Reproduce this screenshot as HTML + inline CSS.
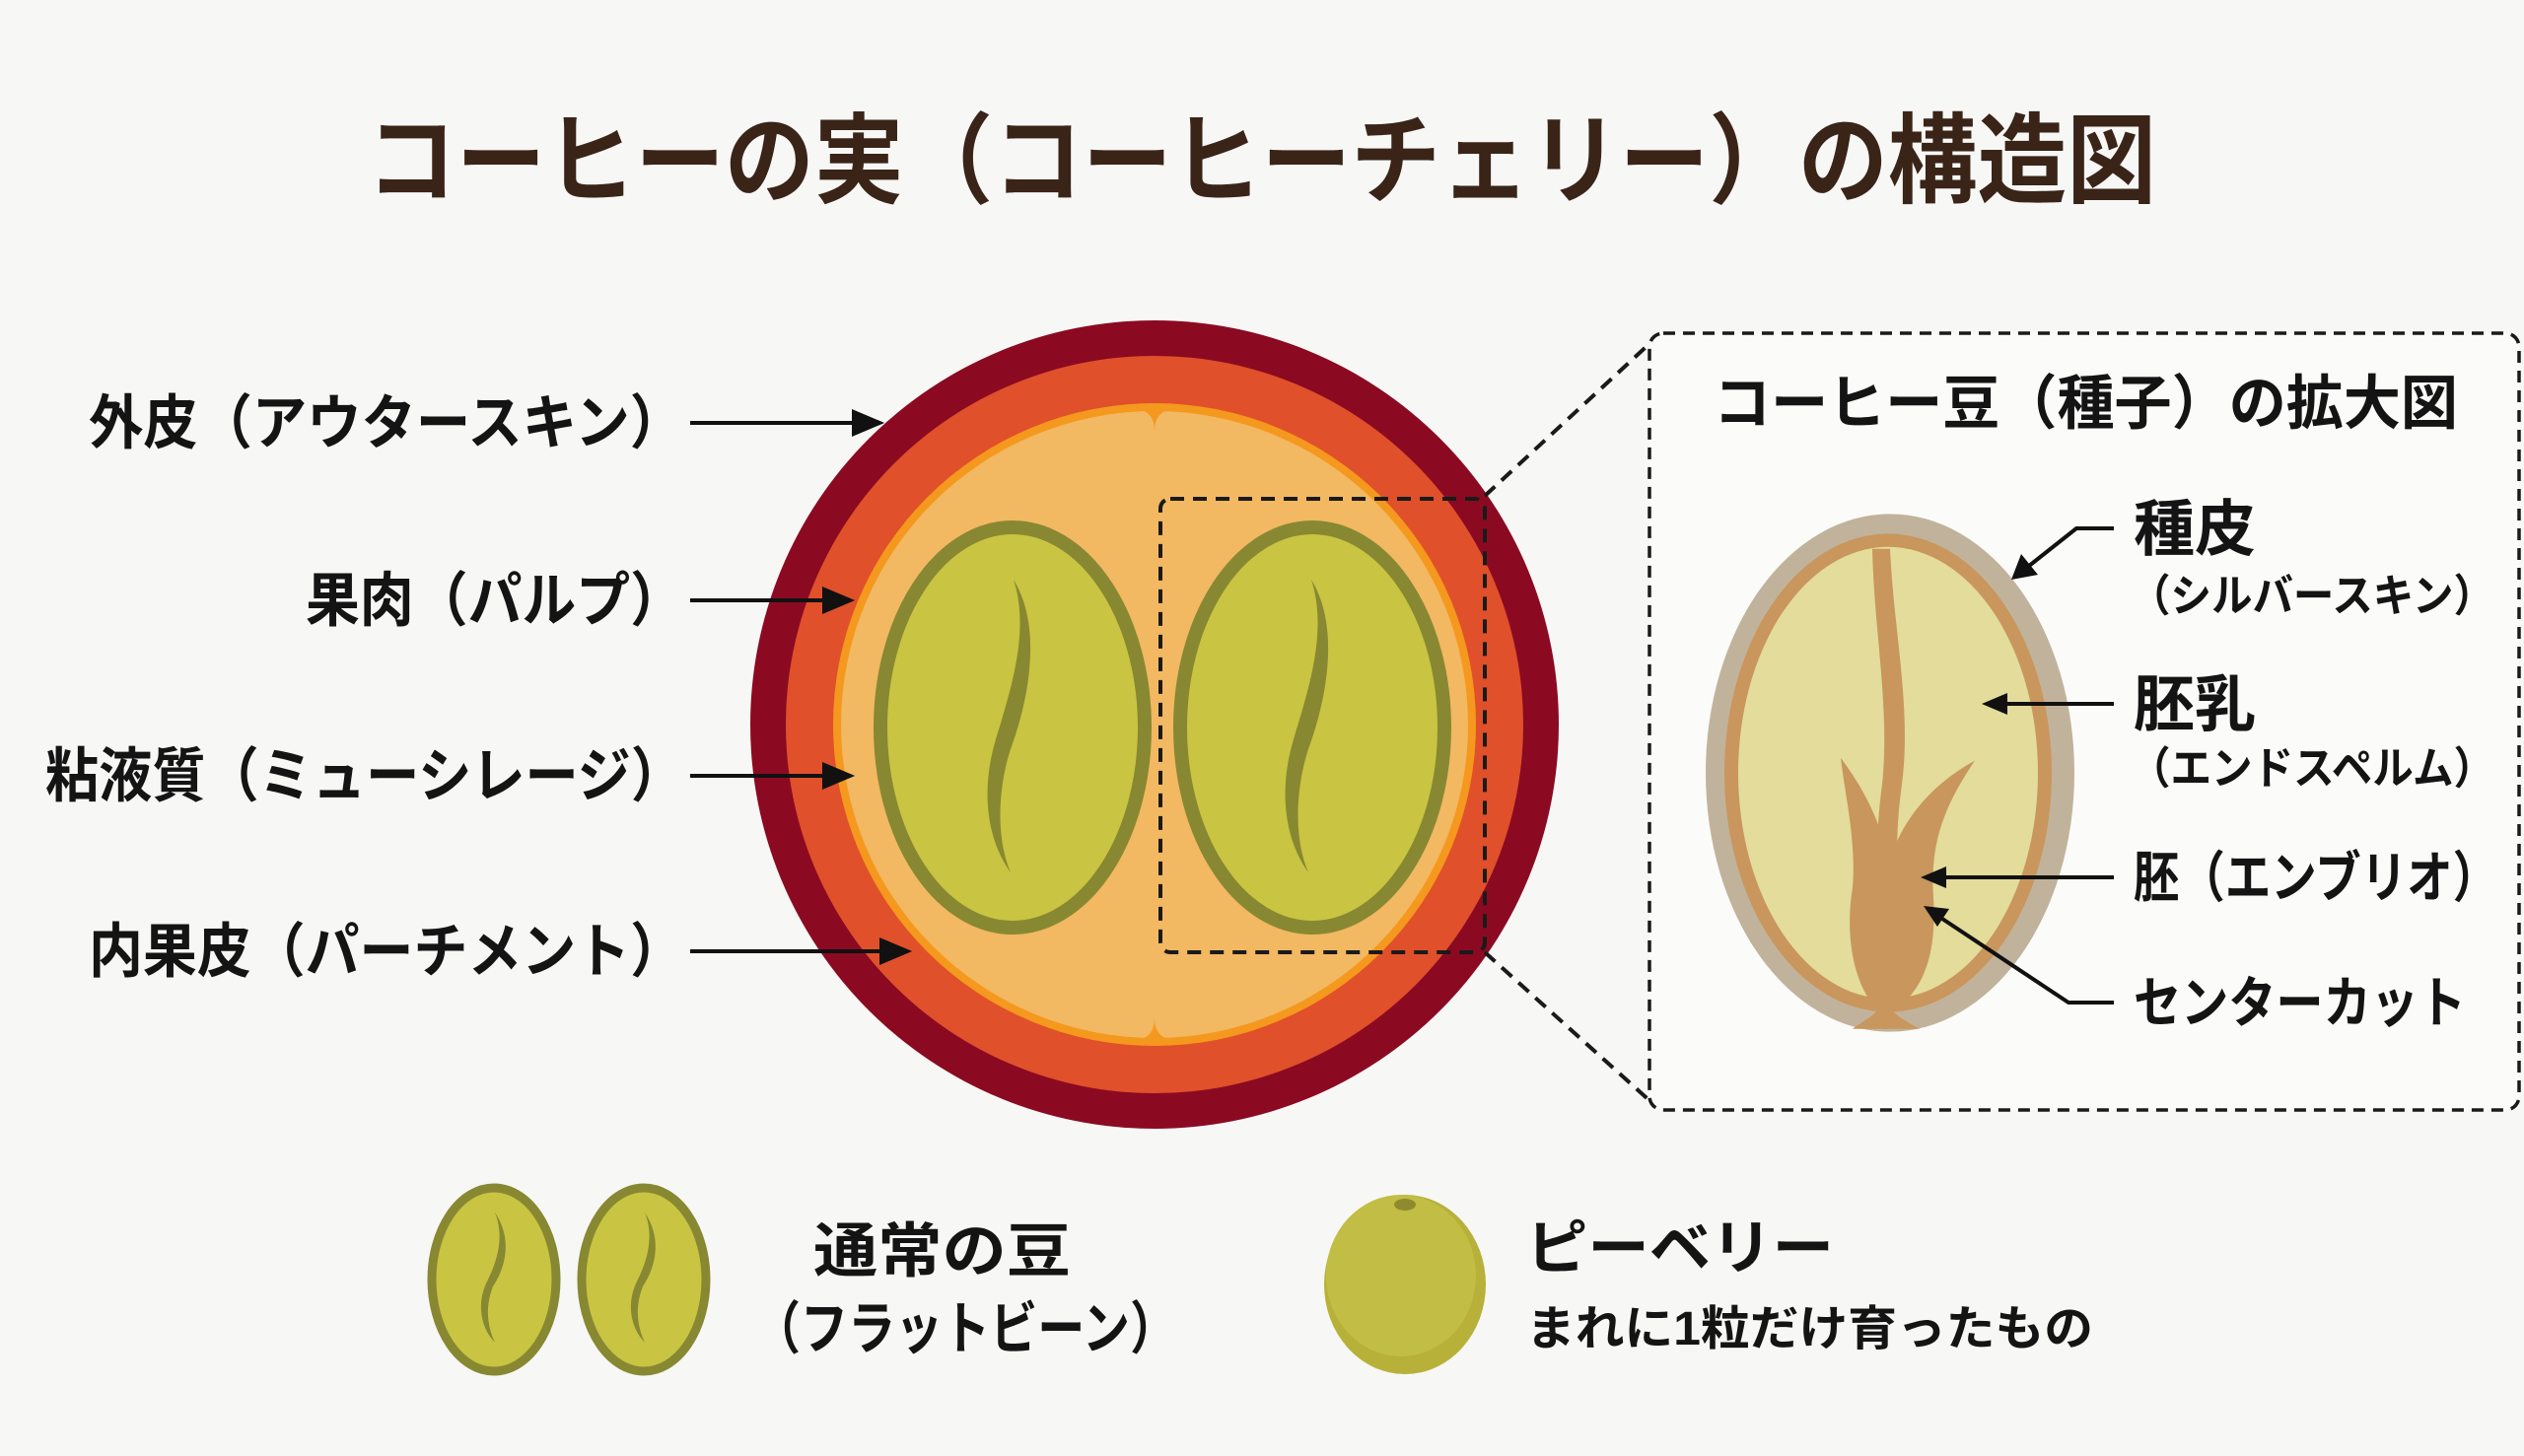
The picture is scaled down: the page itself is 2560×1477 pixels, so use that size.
<!DOCTYPE html>
<html><head><meta charset="utf-8"><style>
html,body{margin:0;padding:0;background:#f7f7f5;}
svg{display:block;}
text{font-family:"Liberation Sans","Noto Sans CJK JP",sans-serif;font-weight:bold;fill:#141414;}
</style></head><body>
<svg width="2560" height="1477" viewBox="0 0 2560 1477" xmlns="http://www.w3.org/2000/svg">
<rect width="2560" height="1477" fill="#f7f7f5"/>
<text x="372" y="198" font-size="100" textLength="1815" lengthAdjust="spacingAndGlyphs" style="fill:#3a2418">コーヒーの実（コーヒーチェリー）の構造図</text>

<!-- cherry -->
<circle cx="1171" cy="735" r="410" fill="#8b0a22"/>
<circle cx="1171" cy="735" r="374" fill="#e0502a"/>
<path d="M1157,361 q14,-2 14,-14 q0,12 14,14z" fill="#8b0a22"/>
<circle cx="1171" cy="735" r="326" fill="#f5981e"/>
<circle cx="1171" cy="735" r="318" fill="#f2b862"/>
<path d="M1155,415 q16,4 16,22 q0,-18 16,-22z" fill="#f5981e"/>
<path d="M1155,1055 q16,-4 16,-22 q0,18 16,22z" fill="#f5981e"/>
<!-- beans -->
<ellipse cx="1027" cy="738" rx="134" ry="203" fill="#c9c442" stroke="#888832" stroke-width="14"/>
<ellipse cx="1331" cy="738" rx="134" ry="203" fill="#c9c442" stroke="#888832" stroke-width="14"/>
<path d="M1028,588 C1060,640 1040,720 1025,760 C1012,800 1010,850 1025,885 C1000,850 995,800 1010,750 C1025,700 1045,640 1028,588Z" fill="#888832"/>
<path d="M1330,588 C1362,640 1342,720 1327,760 C1314,800 1312,850 1327,885 C1302,850 1297,800 1312,750 C1327,700 1347,640 1330,588Z" fill="#888832"/>
<rect x="1177" y="506" width="329" height="460" rx="10" fill="none" stroke="#1a1a1a" stroke-width="4" stroke-dasharray="14,9"/>
<line x1="1506" y1="503" x2="1677" y2="345" stroke="#1a1a1a" stroke-width="4" stroke-dasharray="14,9"/>
<line x1="1506" y1="966" x2="1677" y2="1120" stroke="#1a1a1a" stroke-width="4" stroke-dasharray="14,9"/>

<!-- left labels -->
<g font-size="60" text-anchor="end">
<text x="694" y="450" textLength="604" lengthAdjust="spacingAndGlyphs">外皮（アウタースキン）</text>
<text x="694" y="630" textLength="384" lengthAdjust="spacingAndGlyphs">果肉（パルプ）</text>
<text x="694" y="808" textLength="648" lengthAdjust="spacingAndGlyphs">粘液質（ミューシレージ）</text>
<text x="694" y="986" textLength="604" lengthAdjust="spacingAndGlyphs">内果皮（パーチメント）</text>
</g>
<g stroke="#111" stroke-width="4" fill="#111">
<line x1="700" y1="429" x2="870" y2="429"/><path d="M892,429 l-26,-11 v22z"/>
<line x1="700" y1="609" x2="840" y2="609"/><path d="M862,609 l-26,-11 v22z"/>
<line x1="700" y1="787" x2="840" y2="787"/><path d="M862,787 l-26,-11 v22z"/>
<line x1="700" y1="965" x2="898" y2="965"/><path d="M920,965 l-26,-11 v22z"/>
</g>

<!-- panel -->
<rect x="1673" y="338" width="882" height="788" rx="14" fill="#fbfbfa" stroke="#1a1a1a" stroke-width="3.5" stroke-dasharray="12,8"/>
<text x="1738" y="430" font-size="60" textLength="755" lengthAdjust="spacingAndGlyphs">コーヒー豆（種子）の拡大図</text>
<g transform="translate(1917,784) scale(1,0.955) translate(-1918,-828)">
<ellipse cx="1918" cy="828" rx="187" ry="275" fill="#c1b39b"/>
<ellipse cx="1916" cy="828" rx="166" ry="254" fill="#c9965e"/>
<ellipse cx="1916" cy="828" rx="152" ry="240" fill="#e3dc9a"/>
<g fill="#c9965e">
<path d="M1918,590 C1922,680 1940,760 1930,840 C1922,900 1925,950 1930,1000 L1912,1000 C1905,950 1902,900 1910,840 C1918,760 1902,680 1900,590Z"/>
<path d="M1913,1088 C1880,1060 1872,1000 1880,950 C1884,900 1872,850 1868,812 C1895,850 1910,885 1917,925 C1928,880 1960,840 2004,815 C1975,860 1958,900 1962,960 C1966,1030 1948,1065 1913,1088Z"/>
<path d="M1913,1070 C1905,1085 1890,1092 1880,1100 L1948,1100 C1935,1092 1920,1085 1913,1070Z"/>
</g>
</g>
<g text-anchor="start">
<text x="2164" y="558" font-size="62">種皮</text>
<text x="2160" y="620" font-size="45" textLength="370" lengthAdjust="spacingAndGlyphs">（シルバースキン）</text>
<text x="2164" y="736" font-size="62">胚乳</text>
<text x="2160" y="795" font-size="45" textLength="370" lengthAdjust="spacingAndGlyphs">（エンドスペルム）</text>
<text x="2164" y="910" font-size="56" textLength="370" lengthAdjust="spacingAndGlyphs">胚（エンブリオ）</text>
<text x="2164" y="1037" font-size="56" textLength="337" lengthAdjust="spacingAndGlyphs">センターカット</text>
</g>
<g stroke="#111" stroke-width="4" fill="none">
<polyline points="2144,536 2106,536 2058,574"/>
<line x1="2144" y1="714" x2="2032" y2="714"/>
<line x1="2144" y1="890" x2="1970" y2="890"/>
<polyline points="2144,1017 2098,1017 1970,932"/>
</g>
<g fill="#111">
<path d="M2040,588 l10,-26 l17,21z"/>
<path d="M2010,714 l26,-11 v22z"/>
<path d="M1948,890 l26,-11 v22z"/>
<path d="M1951,919 l26,3 l-12,18z"/>
</g>

<!-- bottom legend -->
<ellipse cx="501" cy="1298" rx="63" ry="93" fill="#c9c442" stroke="#888832" stroke-width="9"/>
<ellipse cx="653" cy="1298" rx="63" ry="93" fill="#c9c442" stroke="#888832" stroke-width="9"/>
<path d="M502,1230 C522,1260 510,1290 500,1305 C492,1325 494,1345 502,1362 C486,1345 484,1320 494,1300 C504,1280 512,1255 502,1230Z" fill="#888832"/>
<path d="M654,1230 C674,1260 662,1290 652,1305 C644,1325 646,1345 654,1362 C638,1345 636,1320 646,1300 C656,1280 664,1255 654,1230Z" fill="#888832"/>
<text x="825" y="1290" font-size="60" textLength="261" lengthAdjust="spacingAndGlyphs">通常の豆</text>
<text x="764" y="1368" font-size="58" textLength="430" lengthAdjust="spacingAndGlyphs">（フラットビーン）</text>
<ellipse cx="1425" cy="1303" rx="82" ry="91" fill="#b7b13a"/>
<ellipse cx="1421" cy="1294" rx="76" ry="82" fill="#c2bd44"/>
<ellipse cx="1425" cy="1222" rx="11" ry="6" fill="#8f8a2e"/>
<text x="1548" y="1287" font-size="60" textLength="312" lengthAdjust="spacingAndGlyphs">ピーベリー</text>
<text x="1548" y="1364" font-size="48" textLength="575" lengthAdjust="spacingAndGlyphs">まれに1粒だけ育ったもの</text>
</svg>
</body></html>
